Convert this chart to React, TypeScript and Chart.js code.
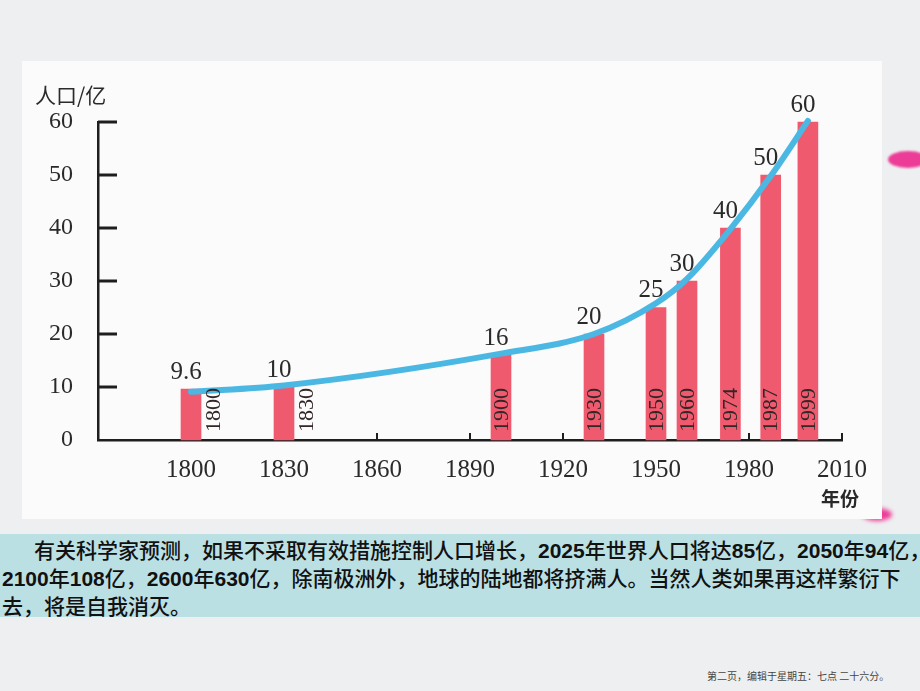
import React, { useEffect, useRef } from "react";
import { Chart, registerables } from "chart.js";

Chart.register(...registerables);

// ---- data ----
const years = [1800, 1830, 1900, 1930, 1950, 1960, 1974, 1987, 1999];
const population = [9.6, 10, 16, 20, 25, 30, 40, 50, 60];
const populationLabels = ["9.6", "10", "16", "20", "25", "30", "40", "50", "60"];
const trendValues = [9.1, 10.3, 16.3, 20, 25.8, 30.4, 39.8, 49.8, 60.2];
const xTicks = [1770, 1800, 1830, 1860, 1890, 1920, 1950, 1980, 2010];
const yTicks = [0, 10, 20, 30, 40, 50, 60];
const yTitle = "人口/亿";
const xTitle = "年份";

const SERIF = '"Liberation Serif", "DejaVu Serif", serif';
const CJK = '"Noto Sans CJK SC", sans-serif';
const INK = "#2a2a2a";

const overlay = {
  id: "overlay",
  beforeDatasetsDraw(chart: any) {
    const { ctx, chartArea, scales } = chart;
    const x = scales.x;
    ctx.save();
    ctx.strokeStyle = "#1e1e1e";
    ctx.lineWidth = 2;
    x.ticks.forEach((t: any) => {
      if (t.value <= x.min) return;
      const px = x.getPixelForValue(t.value);
      ctx.beginPath();
      ctx.moveTo(px, chartArea.bottom);
      ctx.lineTo(px, chartArea.bottom - 7);
      ctx.stroke();
    });
    ctx.restore();
  },
  afterDatasetsDraw(chart: any) {
    const { ctx, chartArea, scales } = chart;
    const y = scales.y;
    ctx.save();
    // inner y ticks
    ctx.strokeStyle = "#1e1e1e";
    ctx.lineWidth = 3;
    y.ticks.forEach((t: any) => {
      if (t.value === 0) return;
      const py = y.getPixelForValue(t.value);
      ctx.beginPath();
      ctx.moveTo(chartArea.left, py);
      ctx.lineTo(chartArea.left + 19, py);
      ctx.stroke();
    });

    const bars = chart.getDatasetMeta(1).data;
    // value labels above bars
    ctx.fillStyle = INK;
    ctx.font = `25px ${SERIF}`;
    ctx.textAlign = "center";
    ctx.textBaseline = "middle";
    bars.forEach((b: any, i: number) => {
      ctx.fillText(populationLabels[i], b.x - 5, b.y - 17);
    });

    // year labels, rotated
    ctx.font = `22px ${SERIF}`;
    bars.forEach((b: any, i: number) => {
      const txt = String(years[i]);
      const w = ctx.measureText(txt).width;
      const h = b.base - b.y;
      const inside = h > w + 24;
      const cx = inside ? b.x : b.x + 22;
      ctx.save();
      ctx.translate(cx, chartArea.bottom - 8);
      ctx.rotate(-Math.PI / 2);
      ctx.textAlign = "left";
      ctx.textBaseline = "middle";
      ctx.fillStyle = "#332626";
      ctx.fillText(txt, 0, 1);
      ctx.restore();
    });

    // axis titles
    ctx.fillStyle = INK;
    ctx.font = `21px ${CJK}`;
    ctx.textAlign = "left";
    ctx.textBaseline = "middle";
    ctx.fillText(yTitle, 13, 34);
    ctx.font = `bold 19px ${CJK}`;
    ctx.textAlign = "center";
    ctx.fillText(xTitle, 818, 438);
    ctx.restore();
  },
};

export default function App() {
  const ref = useRef<HTMLCanvasElement>(null);

  useEffect(() => {
    const chart = new Chart(ref.current as HTMLCanvasElement, {
      type: "bar",
      data: {
        datasets: [
          {
            type: "line",
            data: years.map((yr, i) => ({ x: yr, y: trendValues[i] })),
            borderColor: "#4bb8e3",
            borderWidth: 6,
            pointRadius: 0,
            cubicInterpolationMode: "monotone",
            borderCapStyle: "round",
            fill: false,
            clip: false,
            order: 0,
          } as any,
          {
            type: "bar",
            data: years.map((yr, i) => ({ x: yr, y: population[i] })),
            backgroundColor: "#ef5a6e",
            barThickness: 20,
            clip: false,
            order: 1,
          } as any,
        ],
      },
      options: {
        responsive: false,
        animation: false,
        layout: { padding: { left: 0, right: 39, top: 61, bottom: 0 } },
        plugins: { legend: { display: false }, tooltip: { enabled: false } },
        scales: {
          x: {
            type: "linear",
            min: 1770,
            max: 2010,
            offset: false,
            afterBuildTicks: (s: any) => {
              s.ticks = xTicks.map((v) => ({ value: v }));
            },
            afterFit: (s: any) => {
              s.height = 79;
            },
            ticks: {
              autoSkip: false,
              maxRotation: 0,
              color: INK,
              padding: 15,
              font: { family: SERIF, size: 25 },
              callback: (v: any) => (v === 1770 ? "" : String(v)),
            },
            grid: { display: false, drawTicks: false, offset: false },
            border: { display: true, color: "#1e1e1e", width: 2.5 },
          } as any,
          y: {
            min: 0,
            max: 60,
            afterBuildTicks: (s: any) => {
              s.ticks = yTicks.map((v) => ({ value: v }));
            },
            afterFit: (s: any) => {
              s.width = 76;
            },
            ticks: {
              color: INK,
              padding: 25,
              font: { family: SERIF, size: 24 },
            },
            grid: { display: false, drawTicks: false },
            border: { display: true, color: "#1e1e1e", width: 2.5 },
          } as any,
        },
      },
      plugins: [overlay as any],
    });
    return () => chart.destroy();
  }, []);

  const num: React.CSSProperties = {
    fontFamily: '"Liberation Sans", Arial, sans-serif',
    fontWeight: 700,
  };

  return (
    <div
      style={{
        position: "absolute",
        left: 0,
        top: 0,
        width: 920,
        height: 691,
        background: "#eeeff1",
        overflow: "hidden",
      }}
    >
      <div
        style={{
          position: "absolute",
          left: 888,
          top: 151,
          width: 40,
          height: 17,
          borderRadius: "50%",
          background: "#ec3c97",
          filter: "blur(1px)",
        }}
      />
      <div
        style={{
          position: "absolute",
          left: 862,
          top: 508,
          width: 30,
          height: 13,
          borderRadius: "50%",
          background: "#ec3c97",
          filter: "blur(2px)",
        }}
      />
      <div
        style={{
          position: "absolute",
          left: 22,
          top: 61,
          width: 860,
          height: 458,
          background: "#fbfbfb",
        }}
      >
        <canvas
          ref={ref}
          width={860}
          height={458}
          style={{ display: "block", width: 860, height: 458 }}
        />
      </div>
      <div
        style={{
          position: "absolute",
          left: 0,
          top: 534,
          width: 920,
          height: 83,
          background: "#bbe0e4",
          fontFamily: CJK,
          fontSize: 21,
          fontWeight: 500,
          lineHeight: "27px",
          color: "#111",
          whiteSpace: "nowrap",
          paddingTop: 2,
          boxSizing: "border-box",
        }}
      >
        <div style={{ paddingLeft: 34 }}>
          有关科学家预测，如果不采取有效措施控制人口增长，<span style={num}>2025</span>年世界人口将达
          <span style={num}>85</span>亿，<span style={num}>2050</span>年<span style={num}>94</span>亿，
        </div>
        <div style={{ paddingLeft: 2 }}>
          <span style={num}>2100</span>年<span style={num}>108</span>亿，<span style={num}>2600</span>年
          <span style={num}>630</span>亿，除南极洲外，地球的陆地都将挤满人。当然人类如果再这样繁衍下
        </div>
        <div style={{ paddingLeft: 2 }}>去，将是自我消灭。</div>
      </div>
      <div
        style={{
          position: "absolute",
          left: 707,
          top: 668,
          fontFamily: CJK,
          fontSize: 10,
          color: "#444",
          whiteSpace: "nowrap",
        }}
      >
        第二页，编辑于星期五：七点 二十六分。
      </div>
    </div>
  );
}
